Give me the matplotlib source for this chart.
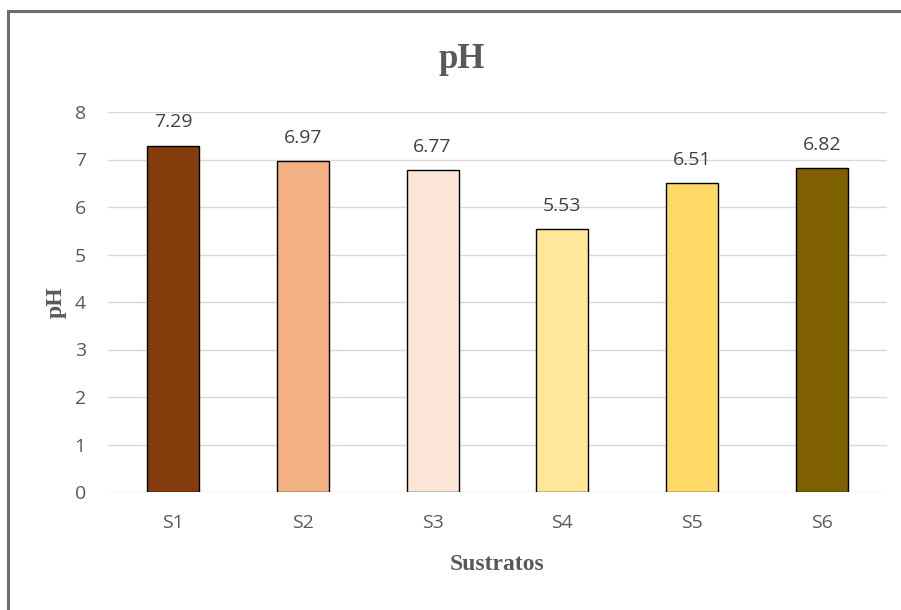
import matplotlib
matplotlib.use("Agg")
import matplotlib.pyplot as plt
from matplotlib.patches import Rectangle

# valores de pH por sustrato
sustratos = ["S1", "S2", "S3", "S4", "S5", "S6"]
ph_valores = [7.29, 6.97, 6.77, 5.53, 6.51, 6.82]
colores = ["#843C0C", "#F4B183", "#FBE5D6", "#FFE699", "#FFD966", "#7F6000"]
y_ticks = [0, 1, 2, 3, 4, 5, 6, 7, 8]

W, H = 901, 610
fig = plt.figure(figsize=(W / 100, H / 100), dpi=100)
fig.patch.set_facecolor("white")

# marco del gráfico (recortado a la derecha y abajo)
fig.patches.append(Rectangle((8 / W, -0.05), 1.05, 1 - 11 / H + 0.05,
                             transform=fig.transFigure, fill=False,
                             edgecolor="#6e6e6e", linewidth=2.2))

ax = fig.add_axes([108 / W, 1 - 492 / H, (887 - 108) / W, (492 - 112) / H])
x = range(len(sustratos))
bars = ax.bar(x, ph_valores, width=0.4, color=colores,
              edgecolor="black", linewidth=1.0, zorder=3)

for b, v in zip(bars, ph_valores):
    ax.text(b.get_x() + b.get_width() / 2, v + 0.3, f"{v:.2f}",
            ha="center", va="bottom", fontsize=14, color="#404040",
            family="Open Sans")

ax.set_xlim(-0.5, len(sustratos) - 0.5)
ax.set_ylim(0, 8)
ax.set_yticks(y_ticks)
ax.set_xticks(list(x))
ax.set_xticklabels(sustratos)
for lab in ax.get_xticklabels() + ax.get_yticklabels():
    lab.set_family("Open Sans")
    lab.set_fontsize(14)
    lab.set_color("#595959")
ax.tick_params(length=0)
ax.tick_params(axis="x", pad=16)
ax.tick_params(axis="y", pad=16)
ax.grid(axis="y", color="#d9d9d9", linewidth=1.0, zorder=0)
for s in ax.spines.values():
    s.set_visible(False)

ax.set_xlabel("Sustratos", fontsize=17, fontweight="bold", color="#595959",
              family="Liberation Serif", labelpad=16)
ax.set_ylabel("pH", fontsize=17, fontweight="bold", color="#595959",
              family="Liberation Serif", labelpad=6)
fig.text(462 / W, 1 - 60 / H, "pH", ha="center", va="center", fontsize=25,
         fontweight="bold", color="#595959", family="Liberation Serif")

fig.savefig("out.png", dpi=100)
